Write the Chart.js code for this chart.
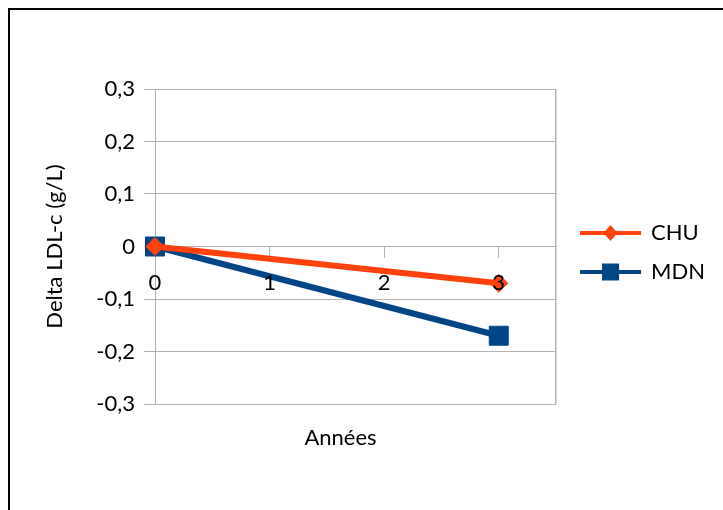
<!DOCTYPE html>
<html><head><meta charset="utf-8">
<script src="https://cdn.jsdelivr.net/npm/chart.js@4.4.0/dist/chart.umd.min.js"></script>
<style>
html,body{margin:0;padding:0;background:#fff;}
#wrap{position:relative;width:723px;height:510px;overflow:hidden;}
#frame{position:absolute;left:8px;top:8px;width:800px;height:600px;border-left:2px solid #000;border-top:2px solid #000;}
canvas{position:absolute;left:0;top:0;}
</style></head><body>
<div id="wrap"><div id="frame"></div><canvas id="c" width="723" height="510"></canvas></div>
<script>
// ---- data ----
const years = [0, 3];
const chuValues = [0, -0.07];
const mdnValues = [0, -0.17];
const seriesNames = ['CHU', 'MDN'];
const xTicks = [0, 1, 2, 3];
const yTicks = [-0.3, -0.2, -0.1, 0, 0.1, 0.2, 0.3];
const xTitle = 'Années';
const yTitle = 'Delta LDL-c (g/L)';

// ---- styles ----
const COL_CHU = '#ff420e';
const COL_MDN = '#004586';
const GRID = '#b3b3b3';
const FONT = 'Lato';
const X_MAX = 3.5;

function fmt(v) {
  const r = Math.round(v * 10) / 10;
  if (r === 0) return '0';
  return r.toFixed(1).replace('.', ',');
}

function legendIcon(color, shape) {
  const c = document.createElement('canvas');
  c.width = 75; c.height = 22;
  const g = c.getContext('2d');
  g.strokeStyle = color; g.lineWidth = 4;
  g.beginPath(); g.moveTo(11, 11); g.lineTo(72, 11); g.stroke();
  g.fillStyle = color;
  g.beginPath();
  const cx = 41.5;
  if (shape === 'diamond') {
    g.moveTo(cx, 3); g.lineTo(cx + 7, 11); g.lineTo(cx, 19); g.lineTo(cx - 7, 11);
  } else {
    g.rect(cx - 8.5, 2.5, 17, 17);
  }
  g.closePath(); g.fill();
  return c;
}
const icons = [legendIcon(COL_CHU, 'diamond'), legendIcon(COL_MDN, 'square')];

const toPts = vals => years.map((x, i) => ({ x: x, y: vals[i] }));

const shiftTitle = {
  id: 'shiftTitle',
  afterLayout(chart) {
    const s = chart.scales.x2;
    s.right -= 30;
    s.width = s.right - s.left;
  }
};

new Chart(document.getElementById('c'), {
  type: 'line',
  data: {
    datasets: [
      {
        label: seriesNames[0], data: toPts(chuValues),
        borderColor: COL_CHU, backgroundColor: COL_CHU, borderWidth: 6,
        pointStyle: 'rectRot', pointRadius: 9, pointBorderWidth: 1,
        pointBackgroundColor: COL_CHU, pointBorderColor: COL_CHU,
        tension: 0, clip: false
      },
      {
        label: seriesNames[1], data: toPts(mdnValues),
        borderColor: COL_MDN, backgroundColor: COL_MDN, borderWidth: 6,
        pointStyle: 'rect', pointRadius: 13.4, pointBorderWidth: 1,
        pointBackgroundColor: COL_MDN, pointBorderColor: COL_MDN,
        tension: 0, clip: false
      }
    ]
  },
  options: {
    responsive: false,
    animation: false,
    events: [],
    layout: { padding: { top: 89, left: 30, bottom: 58.6, right: 8 } },
    font: { family: FONT, size: 22 },
    scales: {
      x: {
        type: 'linear', position: { y: 0 }, min: 0, max: X_MAX,
        afterBuildTicks: s => { s.ticks = xTicks.concat([X_MAX]).map(v => ({ value: v })); },
        ticks: { z: 1, color: '#000', padding: 12, font: { family: FONT, size: 22 },
                 callback: v => (xTicks.indexOf(v) >= 0 ? String(v) : '') },
        grid: {
          drawOnChartArea: true, drawTicks: true, tickLength: 11,
          color: c => (c.tick && c.tick.value === X_MAX ? GRID : 'rgba(0,0,0,0)'),
          tickColor: c => (c.tick && c.tick.value === X_MAX ? 'rgba(0,0,0,0)' : GRID),
          lineWidth: c => (c.tick && c.tick.value === X_MAX ? 1.5 : 1)
        },
        border: { display: false }
      },
      x2: {
        type: 'linear', position: 'bottom', min: 0, max: X_MAX,
        ticks: { display: false },
        grid: { display: false, drawTicks: false },
        border: { display: false },
        title: { display: true, text: xTitle, color: '#000',
                 font: { family: FONT, size: 22 }, padding: { top: 21, bottom: 0 } }
      },
      y: {
        type: 'linear', position: 'left', min: -0.3, max: 0.3,
        afterBuildTicks: s => { s.ticks = yTicks.map(v => ({ value: v })); },
        afterFit: s => { s.width = 125; },
        ticks: { color: '#000', padding: 9, font: { family: FONT, size: 22 }, callback: v => fmt(v) },
        grid: { color: GRID, lineWidth: 1, tickLength: 11 },
        border: { display: true, color: GRID, width: 1 },
        title: { display: true, text: yTitle, color: '#000',
                 font: { family: FONT, size: 22 }, padding: { top: 12, bottom: 0 } }
      }
    },
    plugins: {
      tooltip: { enabled: false },
      legend: {
        position: 'right', fullSize: false, align: 'center',
        title: { display: true, text: ' ', padding: 0, font: { size: 10 } },
        labels: {
          usePointStyle: true, pointStyleWidth: 67, padding: 17,
          color: '#000', font: { family: FONT, size: 22 },
          generateLabels: chart => chart.data.datasets.map((d, i) => ({
            text: d.label, pointStyle: icons[i], fillStyle: d.borderColor,
            strokeStyle: d.borderColor, lineWidth: 0, hidden: false, datasetIndex: i,
            fontColor: '#000'
          }))
        }
      }
    }
  },
  plugins: [shiftTitle]
});
</script>
</body></html>
